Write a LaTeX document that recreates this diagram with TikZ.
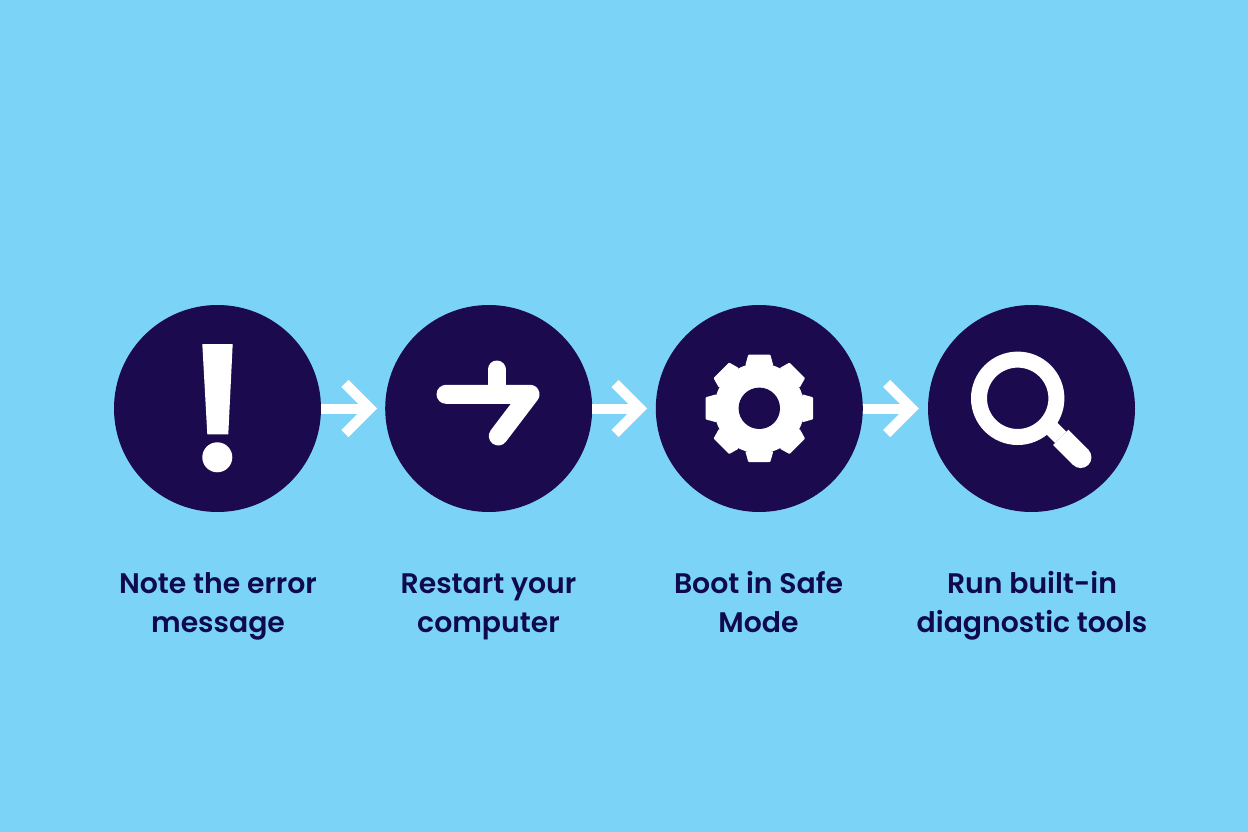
\documentclass[tikz,border=0pt]{standalone}
\usepackage{fontspec}
\setmainfont{Poppins}[BoldFont={Poppins SemiBold}]
\usetikzlibrary{arrows.meta}
\definecolor{skybg}{HTML}{7BD4F7}
\definecolor{navy}{HTML}{1B0A4E}
\definecolor{inktext}{HTML}{0F0A50}
\tikzset{
  x=1pt,y=-1pt,
  stepdisc/.style={circle,fill=navy,draw=none,minimum size=207pt,inner sep=0pt},
  flow/.style={draw=white,line width=10pt,-{Straight Barb[sharp,length=25pt,width=50pt,line width=10pt]}},
  iconline/.style={draw=white,line cap=round,line join=round},
  caption/.style={font=\bfseries\fontsize{28.3}{39}\selectfont,text=inktext,align=center,inner sep=0pt,anchor=center}
}
\begin{document}
\begin{tikzpicture}
\useasboundingbox (0,0) rectangle (1248,832);
\fill[skybg] (0,0) rectangle (1248,832);
\node[stepdisc] (c1) at (217.5,408.5) {};
\node[stepdisc] (c2) at (488.7,408.5) {};
\node[stepdisc] (c3) at (759.3,408.5) {};
\node[stepdisc] (c4) at (1031.5,408.5) {};
\draw[flow,shorten >=8pt] (c1) -- (c2);
\draw[flow,shorten >=8.5pt] (c2) -- (c3);
\draw[flow,shorten >=9pt] (c3) -- (c4);
% exclamation
\fill[white] (202.3,344) -- (232.7,344) -- (228.3,434.3) -- (207.3,434.3) -- cycle;
\fill[white] (217.3,457.3) circle (15);
% restart
\draw[iconline,line width=19pt] (446,394.3) -- (530,394.3) -- (498.3,436);
\draw[iconline,line width=18pt] (496.7,369.5) -- (496.7,394);
% gear
\begin{scope}[shift={(759.3,408.3)}]
\fill[white] (0,0) circle (45);
\foreach \a in {0,45,...,315}{
  \fill[white,rotate=\a,rounded corners=0.8pt] (-14,-43) -- (-11,-53.7) -- (11,-53.7) -- (14,-43) -- cycle;
}
\fill[navy] (0,0) circle (20.7);
\end{scope}
% magnifier
\draw[white,line width=16pt] (1017.7,398.3) circle (38.7);
\draw[white,line width=16pt] (1042,418.6) -- (1060.7,437.3);
\draw[white,line width=21.5pt] (1060.7,437.3) -- (1080.7,457.3);
\fill[white] (1080.7,457.3) circle (10.75);
% captions
\node[caption] (t1) at (218,605) {\strut Note the error\\\strut message};
\node[caption] (t2) at (488.5,605) {\strut Restart your\\\strut computer};
\node[caption] (t3) at (758.5,605) {\strut Boot in Safe\\\strut Mode};
\node[caption] (t4) at (1032,605) {\strut Run built-in\\\strut diagnostic tools};
\end{tikzpicture}
\end{document}
